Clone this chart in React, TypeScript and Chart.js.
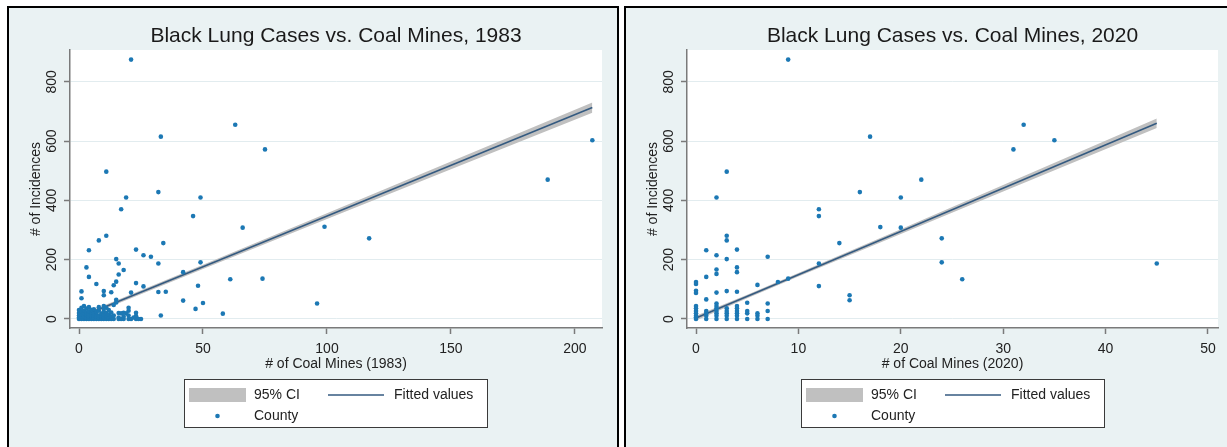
import React, { useEffect, useRef } from "react";
import { Chart, registerables } from "chart.js";

Chart.register(...registerables);

const FONT = '"Liberation Sans", Arial, Helvetica, sans-serif';
const PANEL_BG = "#eaf2f3";
const GRID = "#e2ecef";
const AXIS = "#7a7a7a";
const TEXT = "#222222";
const DOT = "#1c78b4";
const FIT_LINE = "#345a80";
const CI_FILL = "#c0c0c0";

// ---- 1983 ----
const mines1983 = [
  21, 33, 63, 75, 11, 19, 32, 49, 207, 189,
  99, 117, 96, 17, 46, 66, 11, 8, 34, 4,
  23, 26, 29, 15, 16, 32, 49, 3, 18, 42,
  16, 4, 61, 74, 15, 23, 7, 14, 26, 48,
  1, 10, 13, 21, 32, 35, 10, 1, 15, 15,
  42, 50, 14, 47, 58, 33, 20, 20, 16, 18,
  23, 25, 23, 2, 10, 17, 19, 23, 23,
  0, 0, 0, 0, 0, 1, 1, 1, 1, 1, 2, 2, 2, 2, 2, 3, 3, 3, 3, 3,
  4, 4, 4, 4, 4, 4, 5, 5, 5, 5, 5, 6, 6, 6, 6, 6, 7, 7, 7, 7,
  8, 8, 8, 8, 8, 9, 9, 9, 10, 10, 10, 10, 10, 11, 11, 11, 11,
  12, 12, 12, 12, 13, 13, 13, 14, 14, 16, 16, 17, 18, 18, 20, 20, 21, 22, 24,
];
const cases1983 = [
  875, 615, 655, 572, 497, 410, 428, 410, 603, 470,
  311, 272, 52, 370, 347, 308, 281, 265, 256, 232,
  234, 215, 210, 202, 187, 187, 191, 174, 165, 158,
  150, 142, 134, 136, 126, 121, 118, 114, 110, 112,
  93, 94, 90, 89, 91, 92, 80, 70, 65, 56,
  62, 54, 47, 34, 18, 12, 38, 28, 20, 21,
  10, 0, 0, 44, 44, 19, 19, 21, 8,
  0, 5, 12, 20, 30, 0, 8, 15, 25, 38, 0, 4, 10, 18, 28, 0, 6, 14, 22, 35,
  0, 3, 9, 17, 26, 40, 0, 7, 13, 21, 30, 0, 4, 11, 19, 33, 0, 8, 16, 24,
  0, 5, 12, 28, 40, 0, 9, 18, 0, 6, 14, 25, 36, 0, 10, 20, 38,
  0, 4, 15, 30, 0, 8, 22, 0, 12, 0, 5, 0, 0, 8, 0, 12, 0, 5, 0,
];
const fitX1983 = [0, 207];
const fitY1983 = [5, 713];
const ciX1983 = [0, 15, 50, 100, 150, 207];
const ciLow1983 = [-2, 50, 169, 337, 505, 696];
const ciHigh1983 = [12, 62, 183, 357, 531, 730];
const xTicks1983 = [0, 50, 100, 150, 200];

// ---- 2020 ----
const mines2020 = [
  9, 17, 3, 2, 16, 20, 22, 32, 31, 35,
  24, 24, 26, 45, 12, 12, 18, 20, 3, 3,
  14, 1, 4, 2, 7, 3, 12, 2, 4, 4,
  2, 1, 8, 9, 0, 0, 6, 12, 0, 0,
  2, 3, 4, 15, 15, 1, 5, 7, 2,
  0, 0, 0, 0, 0, 0, 0, 1, 1, 1, 1, 2, 2, 2, 2, 2, 2,
  3, 3, 3, 3, 3, 4, 4, 4, 4, 4, 4, 5, 5, 5, 6, 6, 6, 7, 7,
];
const cases2020 = [
  875, 615, 497, 410, 428, 410, 470, 655, 572, 603,
  272, 191, 134, 187, 370, 347, 310, 308, 281, 265,
  256, 232, 234, 215, 210, 202, 187, 167, 174, 158,
  152, 142, 125, 136, 125, 118, 115, 111, 95, 88,
  89, 94, 92, 80, 63, 66, 55, 52, 52,
  0, 6, 11, 19, 27, 36, 44, 0, 11, 19, 27, 0, 11, 19, 27, 36, 44,
  0, 11, 19, 27, 36, 0, 11, 19, 27, 36, 44, 0, 19, 27, 0, 11, 19, 0, 27,
];
const fitX2020 = [0, 45];
const fitY2020 = [3, 660];
const ciX2020 = [0, 5, 10, 20, 30, 45];
const ciLow2020 = [-5, 70, 143, 287, 430, 644];
const ciHigh2020 = [11, 82, 155, 303, 452, 676];
const xTicks2020 = [0, 10, 20, 30, 40, 50];

const yTicks = [0, 200, 400, 600, 800];

type PanelSpec = {
  title: string;
  xTitle: string;
  xs: number[];
  ys: number[];
  fitX: number[];
  fitY: number[];
  ciX: number[];
  ciLow: number[];
  ciHigh: number[];
  xTicks: number[];
  xMin: number;
  xMax: number;
};

const panels: PanelSpec[] = [
  {
    title: "Black Lung Cases vs. Coal Mines, 1983",
    xTitle: "# of Coal Mines (1983)",
    xs: mines1983,
    ys: cases1983,
    fitX: fitX1983,
    fitY: fitY1983,
    ciX: ciX1983,
    ciLow: ciLow1983,
    ciHigh: ciHigh1983,
    xTicks: xTicks1983,
    xMin: -3.63,
    xMax: 210.9,
  },
  {
    title: "Black Lung Cases vs. Coal Mines, 2020",
    xTitle: "# of Coal Mines (2020)",
    xs: mines2020,
    ys: cases2020,
    fitX: fitX2020,
    fitY: fitY2020,
    ciX: ciX2020,
    ciLow: ciLow2020,
    ciHigh: ciHigh2020,
    xTicks: xTicks2020,
    xMin: -0.88,
    xMax: 50.98,
  },
];

// White plot region, rotated y tick labels and the boxed two-column legend
const stataLook = {
  id: "stataLook",
  beforeDraw(chart: any) {
    const { ctx, chartArea: ca } = chart;
    ctx.save();
    ctx.fillStyle = "#ffffff";
    ctx.fillRect(ca.left, ca.top, ca.right - ca.left, ca.bottom - ca.top);
    ctx.restore();
  },
  afterDraw(chart: any) {
    const { ctx, chartArea: ca } = chart;
    const yScale = chart.scales.y;
    ctx.save();
    ctx.font = `14px ${FONT}`;
    ctx.fillStyle = TEXT;
    ctx.textAlign = "center";
    ctx.textBaseline = "middle";
    for (const t of yScale.ticks) {
      const py = yScale.getPixelForValue(t.value);
      ctx.save();
      ctx.translate(ca.left - 17.5, py);
      ctx.rotate(-Math.PI / 2);
      ctx.fillText(String(t.value), 0, 0);
      ctx.restore();
    }

    const ds = chart.data.datasets;
    const W = 304;
    const H = 49;
    const L = Math.round((ca.left + ca.right) / 2 - W / 2);
    const T = Math.round(ca.bottom + 51);
    ctx.fillStyle = "#ffffff";
    ctx.fillRect(L, T, W, H);
    ctx.strokeStyle = "#3a3a3a";
    ctx.lineWidth = 1;
    ctx.strokeRect(L + 0.5, T + 0.5, W - 1, H - 1);
    const r1 = T + 16;
    const r2 = T + 37;
    ctx.fillStyle = CI_FILL;
    ctx.fillRect(L + 5, r1 - 7, 57, 14);
    ctx.strokeStyle = FIT_LINE;
    ctx.lineWidth = 1.5;
    ctx.beginPath();
    ctx.moveTo(L + 144, r1);
    ctx.lineTo(L + 200, r1);
    ctx.stroke();
    ctx.fillStyle = DOT;
    ctx.beginPath();
    ctx.arc(L + 33.5, r2, 2.3, 0, Math.PI * 2);
    ctx.fill();
    ctx.fillStyle = TEXT;
    ctx.textAlign = "left";
    ctx.fillText(ds[2].label, L + 70, r1);
    ctx.fillText(ds[1].label, L + 210, r1);
    ctx.fillText(ds[0].label, L + 70, r2);
    ctx.restore();
  },
};

function StataPanel({
  spec,
  left,
  width,
  canvasWidth,
  padRight,
}: {
  spec: PanelSpec;
  left: number;
  width: number;
  canvasWidth: number;
  padRight: number;
}) {
  const ref = useRef<HTMLCanvasElement>(null);

  useEffect(() => {
    const tickFont = { family: FONT, size: 14 };
    const chart = new Chart(ref.current as HTMLCanvasElement, {
      type: "scatter",
      data: {
        datasets: [
          {
            type: "scatter",
            label: "County",
            data: spec.xs.map((x, i) => ({ x, y: spec.ys[i] })),
            pointRadius: 2.3,
            pointHoverRadius: 2.3,
            pointBackgroundColor: DOT,
            pointBorderWidth: 0,
          },
          {
            type: "line",
            label: "Fitted values",
            data: spec.fitX.map((x, i) => ({ x, y: spec.fitY[i] })),
            borderColor: FIT_LINE,
            borderWidth: 1.6,
            pointRadius: 0,
            fill: false,
            tension: 0,
          },
          {
            type: "line",
            label: "95% CI",
            data: spec.ciX.map((x, i) => ({ x, y: spec.ciHigh[i] })),
            borderWidth: 0,
            borderColor: "rgba(0,0,0,0)",
            backgroundColor: CI_FILL,
            pointRadius: 0,
            fill: "+1",
            tension: 0,
          },
          {
            type: "line",
            label: "95% CI lower",
            data: spec.ciX.map((x, i) => ({ x, y: spec.ciLow[i] })),
            borderWidth: 0,
            borderColor: "rgba(0,0,0,0)",
            pointRadius: 0,
            fill: false,
            tension: 0,
          },
        ],
      } as any,
      options: {
        responsive: false,
        animation: false,
        events: [],
        layout: { padding: { left: 0, right: padRight, top: 0, bottom: 69 } },
        scales: {
          x: {
            type: "linear",
            min: spec.xMin,
            max: spec.xMax,
            afterBuildTicks: (axis: any) => {
              axis.ticks = spec.xTicks.map((v) => ({ value: v }));
            },
            afterFit: (s: any) => {
              s.height = 50;
            },
            grid: {
              drawOnChartArea: false,
              drawTicks: true,
              tickLength: 6,
              tickColor: AXIS,
              tickWidth: 1.5,
            },
            border: { display: true, color: AXIS, width: 1.5 },
            ticks: {
              font: tickFont,
              color: TEXT,
              padding: 7,
              maxRotation: 0,
              autoSkip: false,
            },
            title: {
              display: true,
              text: spec.xTitle,
              font: tickFont,
              color: TEXT,
              padding: { top: 0, bottom: 5.6 },
            },
          },
          y: {
            type: "linear",
            min: -30.4,
            max: 907.3,
            afterBuildTicks: (axis: any) => {
              axis.ticks = yTicks.map((v) => ({ value: v }));
            },
            afterFit: (s: any) => {
              s.width = 61;
            },
            grid: {
              color: GRID,
              lineWidth: 1,
              drawTicks: true,
              tickLength: 6,
              tickColor: AXIS,
              tickWidth: 1.5,
            },
            border: { display: true, color: AXIS, width: 1.5 },
            ticks: { display: false },
            title: {
              display: true,
              text: "# of Incidences",
              font: tickFont,
              color: TEXT,
              padding: { top: 18.6, bottom: 0 },
            },
          },
        },
        plugins: {
          legend: { display: false },
          tooltip: { enabled: false },
          title: {
            display: true,
            text: spec.title,
            fullSize: false,
            color: "#1a1a1a",
            font: { family: FONT, size: 21, weight: "normal" },
            padding: { top: 16, bottom: 0.8 },
          },
        },
      } as any,
      plugins: [stataLook],
    });
    return () => chart.destroy();
  }, [spec, padRight]);

  return (
    <div
      style={{
        position: "absolute",
        left,
        top: 6,
        width,
        height: 470,
        border: "2px solid #000",
        boxSizing: "border-box",
        background: PANEL_BG,
      }}
    >
      <canvas
        ref={ref}
        width={canvasWidth}
        height={439}
        style={{ display: "block", width: canvasWidth, height: 439 }}
      />
    </div>
  );
}

export default function App() {
  return (
    <div
      style={{
        position: "fixed",
        left: 0,
        top: 0,
        width: 1227,
        height: 447,
        overflow: "hidden",
        background: "#ffffff",
      }}
    >
      <StataPanel spec={panels[0]} left={7} width={612} canvasWidth={608} padRight={15} />
      <StataPanel spec={panels[1]} left={624} width={620} canvasWidth={605} padRight={13} />
    </div>
  );
}
